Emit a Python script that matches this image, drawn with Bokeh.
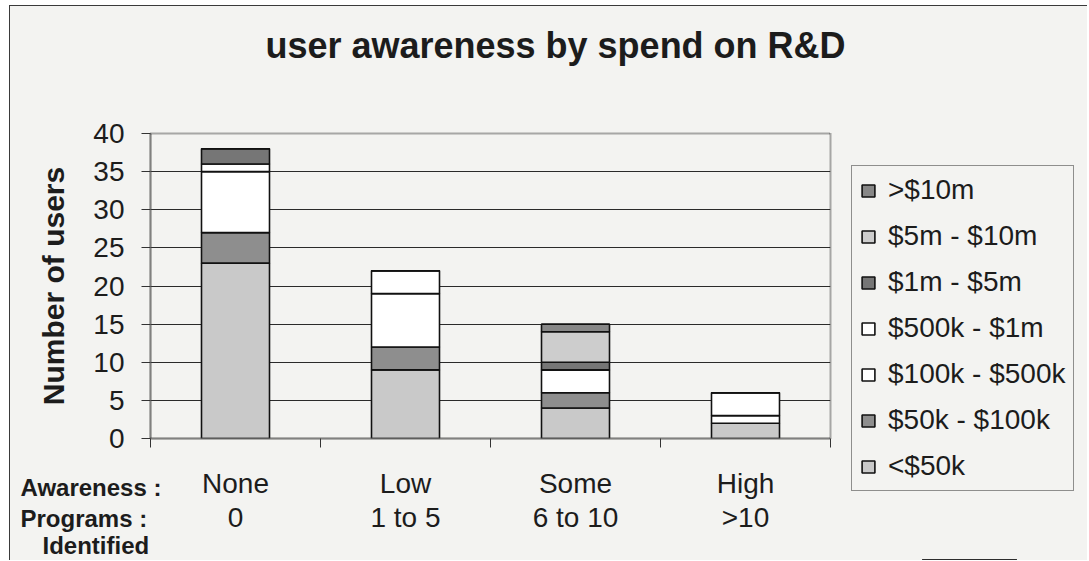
from bokeh.plotting import figure
from bokeh.models import (Range1d, LinearAxis, FixedTicker, Legend,
                          LegendItem, Label, Row, Column, Spacer)
from bokeh.embed import file_html
from bokeh.resources import INLINE

# Awareness groups and the number of programs identified in each
categories = ["None", "Low", "Some", "High"]
programs = ["0", "1 to 5", "6 to 10", ">10"]

# R&D spend bands, bottom of the stack first
bands = ["<$50k", "$50k - $100k", "$100k - $500k", "$500k - $1m",
         "$1m - $5m", "$5m - $10m", ">$10m"]

# Number of users per spend band in each awareness group
lt_50k = [23, 9, 4, 2]
k50_100k = [4, 3, 2, 0]
k100_500k = [8, 7, 3, 1]
k500k_1m = [1, 3, 0, 3]
m1_5m = [2, 0, 1, 0]
m5_10m = [0, 0, 4, 0]
gt_10m = [0, 0, 1, 0]

band_colors = ["#c9c9c9", "#8e8e8e", "#ffffff", "#ffffff",
               "#767676", "#cdcdcd", "#878787"]

FONT = "Liberation Sans"
BG = "#f3f3f1"
INK = "#1c1c1c"

# one unit per group, bars centred in their slot
centers = [i + 0.5 for i in range(len(categories))]
data = {"x": centers}
for name, vals in zip(bands, [lt_50k, k50_100k, k100_500k, k500k_1m,
                              m1_5m, m5_10m, gt_10m]):
    data[name] = vals

p = figure(x_range=Range1d(0, len(categories)),
           y_range=Range1d(0, 40),
           width=841, height=554,
           output_backend="svg", toolbar_location=None,
           x_axis_location=None,
           min_border_left=140, min_border_right=21,
           min_border_top=127, min_border_bottom=122)

p.background_fill_color = BG
p.border_fill_color = BG
p.outline_line_color = "#5a5a5a"
p.outline_line_width = 2
p.outline_line_dash = "1 1"

renderers = p.vbar_stack(bands, x="x", width=0.4, source=data,
                         color=band_colors, line_color="#111111",
                         line_width=1.6)

# y axis
yax = p.yaxis[0]
yax.ticker = FixedTicker(ticks=list(range(0, 41, 5)))
yax.axis_label = "Number of users"
yax.axis_label_text_font = FONT
yax.axis_label_text_font_style = "bold"
yax.axis_label_text_font_size = "30px"
yax.axis_label_text_color = INK
yax.axis_label_standoff = 20
yax.major_label_text_font = FONT
yax.major_label_text_font_size = "28px"
yax.major_label_text_color = INK
yax.major_label_standoff = 17
yax.major_tick_out = 9
yax.major_tick_in = 0
yax.minor_tick_out = 0
yax.minor_tick_in = 0
yax.major_tick_line_color = "#333333"
yax.axis_line_color = "#5a5a5a"
yax.axis_line_width = 2
yax.axis_line_dash = "1 1"

p.ygrid.grid_line_color = "#2a2a2a"
p.ygrid.grid_line_width = 1
p.xgrid.grid_line_color = None

# boundary ticks between groups
edge_axis = LinearAxis(ticker=FixedTicker(ticks=list(range(len(categories) + 1))),
                       major_tick_out=9, major_tick_in=0,
                       minor_tick_out=0, minor_tick_in=0,
                       major_tick_line_color="#333333",
                       axis_line_color="#5a5a5a", axis_line_width=2,
                       axis_line_dash="1 1",
                       major_label_text_font_size="1px",
                       major_label_text_alpha=0,
                       major_label_standoff=0)
p.add_layout(edge_axis, "below")


def label_axis(labels, standoff):
    return LinearAxis(ticker=FixedTicker(ticks=centers),
                      major_label_overrides=dict(zip(centers, labels)),
                      major_label_text_font=FONT,
                      major_label_text_font_size="28px",
                      major_label_text_color=INK,
                      major_label_standoff=standoff,
                      major_tick_line_color=None,
                      minor_tick_line_color=None,
                      axis_line_color=None)


# awareness labels, then number of programs identified
p.add_layout(label_axis(categories, 14), "below")
p.add_layout(label_axis(programs, -6), "below")

# chart title
p.add_layout(Label(x=545, y=39, x_units="canvas", y_units="canvas",
                   text="user awareness by spend on R&D",
                   text_font=FONT, text_font_style="bold",
                   text_font_size="36px", text_color=INK,
                   text_align="center", text_baseline="middle"), "above")

# row captions left of the group labels
for text, x, y in [("Awareness :", 10, 481),
                   ("Programs :", 10, 512),
                   ("Identified", 32, 539)]:
    p.add_layout(Label(x=x, y=y, x_units="canvas", y_units="canvas",
                       text=text, text_font=FONT, text_font_style="bold",
                       text_font_size="24px", text_color=INK,
                       text_align="left", text_baseline="middle"), "above")

# legend panel: same stacks, kept outside its visible range so only the
# legend itself shows
lg = figure(x_range=Range1d(0, 1), y_range=Range1d(1000, 1001),
            width=236, height=395,
            output_backend="svg", toolbar_location=None,
            x_axis_location=None, y_axis_location=None,
            min_border=0)
lg.background_fill_color = BG
lg.border_fill_color = BG
lg.outline_line_color = None
lg.xgrid.grid_line_color = None
lg.ygrid.grid_line_color = None
lg_renderers = lg.vbar_stack(bands, x="x", width=0.4, source=data,
                             color=band_colors, line_color="#111111",
                             line_width=1.6)

items = [LegendItem(label=name, renderers=[r])
         for name, r in zip(bands, lg_renderers)][::-1]
legend = Legend(items=items, location="top_left",
                label_text_font=FONT, label_text_font_size="28px",
                label_text_color=INK, label_height=25, label_standoff=12,
                glyph_width=16, glyph_height=15,
                spacing=14, padding=8, margin=0,
                border_line_color="#2a2a2a", border_line_width=1,
                background_fill_color=BG, background_fill_alpha=1)
lg.add_layout(legend, "center")

side = Column(children=[Spacer(width=236, height=159,
                               styles={"background-color": BG}), lg],
              spacing=0)
page = Row(children=[p, side], spacing=0,
           styles={"margin-left": "9px", "margin-top": "5px",
                   "border-left": "1px solid #3a3a3a",
                   "border-top": "1px solid #3a3a3a",
                   "background-color": BG})

open("out.html", "w").write(file_html(page, INLINE))
